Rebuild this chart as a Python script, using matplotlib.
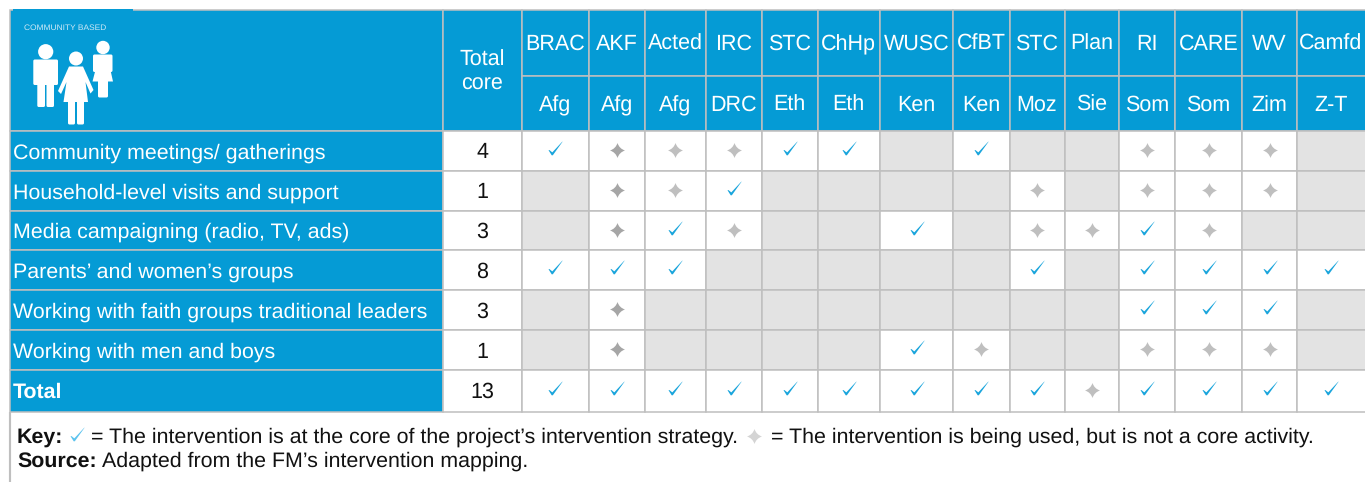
import matplotlib
matplotlib.use("Agg")
import matplotlib.pyplot as plt
from matplotlib import font_manager
from matplotlib.patches import Rectangle, Circle, Polygon, FancyBboxPatch
from matplotlib.path import Path

# ---------- data ----------
organisations = ["BRAC", "AKF", "Acted", "IRC", "STC", "ChHp", "WUSC", "CfBT", "STC", "Plan", "RI", "CARE", "WV", "Camfd"]
countries = ["Afg", "Afg", "Afg", "DRC", "Eth", "Eth", "Ken", "Ken", "Moz", "Sie", "Som", "Som", "Zim", "Z-T"]
interventions = ["Community meetings/ gatherings", "Household-level visits and support",
                 "Media campaigning (radio, TV, ads)", "Parents\u2019 and women\u2019s groups",
                 "Working with faith groups traditional leaders", "Working with men and boys", "Total"]
total_core = [4, 1, 3, 8, 3, 1, 13]
# C core, D used (dark star), S used (light star), - not used
community_meetings = list("CDSSCC-C--SSS-")
household_visits = list("-DSC----S-SSS-")
media_campaigning = list("-DCS--C-SSCS--")
parents_women = list("CCC-----C-CCCC")
faith_groups = list("-D--------CCC-")
men_and_boys = list("-D----CS--SSS-")
total_row = list("CCCCCCCCCSCCCC")
matrix = [community_meetings, household_visits, media_campaigning, parents_women,
          faith_groups, men_and_boys, total_row]

# ---------- layout ----------
col_edges = [9.5, 442.7, 521.7, 589, 644.5, 706, 762, 817.5, 880, 953, 1009.5, 1064.5, 1119, 1175, 1242, 1297, 1368]
row_edges = [10, 75.5, 130.5, 171, 211, 250, 290, 330, 370, 411.5]
BLUE, GRID, EMPTY = "#059BD5", "#BFBFBF", "#E3E3E3"
CHECK, DARK, LIGHT = "#1AA5DC", "#A6A6A6", "#BFBFBF"
FONT = "Liberation Sans"
plt.rcParams["font.family"] = [FONT, "DejaVu Sans"]
plt.rcParams["text.hinting"] = "none"
plt.rcParams["text.hinting_factor"] = 8
HEAD, LABEL, BODY = 15.5, 15.4, 15.38
LW = 1.1

fig = plt.figure(figsize=(13.65, 4.82), dpi=100)
ax = fig.add_axes([0, 0, 1, 1])
ax.set_xlim(0, 1365)
ax.set_ylim(482, 0)
ax.axis("off")

def cell(x0, x1, y0, y1, color):
    ax.add_patch(Rectangle((x0, y0), x1 - x0, y1 - y0, facecolor=color, edgecolor=GRID, linewidth=LW, zorder=1))

star_path = Path(
    [(0, 1), (0.24, 0.24), (1, 0), (0.24, -0.24), (0, -1), (-0.24, -0.24), (-1, 0), (-0.24, 0.24), (0, 1), (0, 1)],
    [Path.MOVETO, Path.CURVE3, Path.CURVE3, Path.CURVE3, Path.CURVE3, Path.CURVE3, Path.CURVE3, Path.CURVE3, Path.CURVE3, Path.CLOSEPOLY],
)
check_path = Path(
    [(-7, -1.7), (-6.0, -1.6), (-3.2, -3.9), (6.8, 6.9), (7, 6.7), (-2.7, -6.8), (-3.8, -6.8), (-7, -1.7)],
    [Path.MOVETO] + [Path.LINETO] * 6 + [Path.CLOSEPOLY],
)
S_STAR = (15 * 0.72) ** 2
S_CHECK = (14 * 0.72) ** 2

# header
cell(col_edges[0], col_edges[1], row_edges[0], row_edges[2], BLUE)
cell(col_edges[1], col_edges[2], row_edges[0], row_edges[2], BLUE)
ax.add_patch(Rectangle((13, 9.2), 120, 2, facecolor=BLUE, edgecolor="none", zorder=2))
ax.text((col_edges[1] + col_edges[2]) / 2, 65.7, "Total", color="white", fontsize=HEAD, ha="center", va="baseline", zorder=3)
ax.text((col_edges[1] + col_edges[2]) / 2, 89.5, "core", color="white", fontsize=HEAD, ha="center", va="baseline", zorder=3)
for j, (org, ctry) in enumerate(zip(organisations, countries)):
    x0, x1 = col_edges[j + 2], col_edges[j + 3]
    xc = (x0 + min(x1, 1365)) / 2
    cell(x0, x1, row_edges[0], row_edges[1], BLUE)
    cell(x0, x1, row_edges[1], row_edges[2], BLUE)
    ax.text(xc, 50, org, color="white", fontsize=HEAD, ha="center", va="baseline", zorder=3)
    ax.text(xc, 111, ctry, color="white", fontsize=HEAD, ha="center", va="baseline", zorder=3)

# body rows
for i, (name, tot, states) in enumerate(zip(interventions, total_core, matrix)):
    y0, y1 = row_edges[i + 2], row_edges[i + 3]
    yc = (y0 + y1) / 2
    cell(col_edges[0], col_edges[1], y0, y1, BLUE)
    cell(col_edges[1], col_edges[2], y0, y1, "white")
    bold = name == "Total"
    ax.text(13, yc + 7.5, name, color="white", fontsize=LABEL, fontweight="bold" if bold else "normal",
            ha="left", va="baseline", zorder=3)
    ax.text((col_edges[1] + col_edges[2]) / 2, yc + 7.5, str(tot), color="#111111", fontsize=HEAD,
            ha="center", va="baseline", zorder=3)
    for j, state in enumerate(states):
        x0, x1 = col_edges[j + 2], col_edges[j + 3]
        xc = (x0 + min(x1, 1365)) / 2
        cell(x0, x1, y0, y1, EMPTY if state == "-" else "white")
        if state == "C":
            ax.scatter([xc], [yc - 3], marker=check_path, s=S_CHECK, color=CHECK, linewidths=0, zorder=4)
        elif state in "DS":
            ax.scatter([xc], [yc - 1], marker=star_path, s=S_STAR, color=DARK if state == "D" else LIGHT,
                       linewidths=0, zorder=4)

# outer frame of the note
ax.plot([9.5, 9.5], [411.5, 482], color=GRID, lw=LW * 1.4, zorder=2, solid_capstyle="butt")

# note
ax.text(17, 443, "Key:", fontsize=BODY, fontweight="bold", color="#111111", va="baseline")
ax.scatter([77], [434], marker=check_path, s=S_CHECK, color="#5CC3EE", linewidths=0, zorder=4)
ax.text(91, 443, "= The intervention is at the core of the project\u2019s intervention strategy.",
        fontsize=BODY, color="#111111", va="baseline")
ax.scatter([754], [436], marker=star_path, s=S_STAR, color="#D4D4D4", linewidths=0, zorder=4)
ax.text(771, 443, "= The intervention is being used, but is not a core activity.",
        fontsize=BODY, color="#111111", va="baseline")
ax.text(17, 467, "Source:", fontsize=BODY, fontweight="bold", color="#111111", va="baseline")
ax.text(102, 467, "Adapted from the FM\u2019s intervention mapping.", fontsize=BODY, color="#111111", va="baseline")

# community icon
names = {f.name for f in font_manager.fontManager.ttflist}
narrow = "Liberation Sans Narrow" in names
ax.text(24.5, 30, "COMMUNITY BASED", fontsize=7.2 if narrow else 6.0, color="#CDE9F6", ha="left", va="baseline",
        zorder=5, family="Liberation Sans Narrow" if narrow else FONT)
W = {"facecolor": "white", "edgecolor": "none", "zorder": 5}
def rounded(x0, y0, x1, y1, r=1.5):
    ax.add_patch(FancyBboxPatch((x0 + r, y0 + r), x1 - x0 - 2 * r, y1 - y0 - 2 * r,
                                boxstyle=f"round,pad={r},rounding_size={r}", **W))
# man
ax.add_patch(Circle((45.7, 51.7), 7.6, **W))
rounded(33.3, 59.5, 58, 85)
rounded(37.3, 82, 45, 107)
rounded(46.5, 82, 54, 107)
# woman
ax.add_patch(Circle((76, 58.5), 7, **W))
ax.add_patch(Polygon([(69, 66.5), (83, 66.5), (93.5, 90), (90.5, 93.5), (85.5, 82), (88, 102),
                      (63.5, 102), (66.5, 82), (61, 94), (58, 91)], **W))
rounded(68, 99, 75, 124.5)
rounded(77, 99, 84, 124.5)
# girl
ax.add_patch(Circle((103, 47.5), 6.7, **W))
rounded(93, 54.5, 112.5, 72)
ax.add_patch(Polygon([(96, 68), (110, 68), (113, 81.5), (92.5, 81.5)], **W))
rounded(98, 78, 108, 97.5)

fig.savefig("out.png", dpi=100, facecolor="white")
